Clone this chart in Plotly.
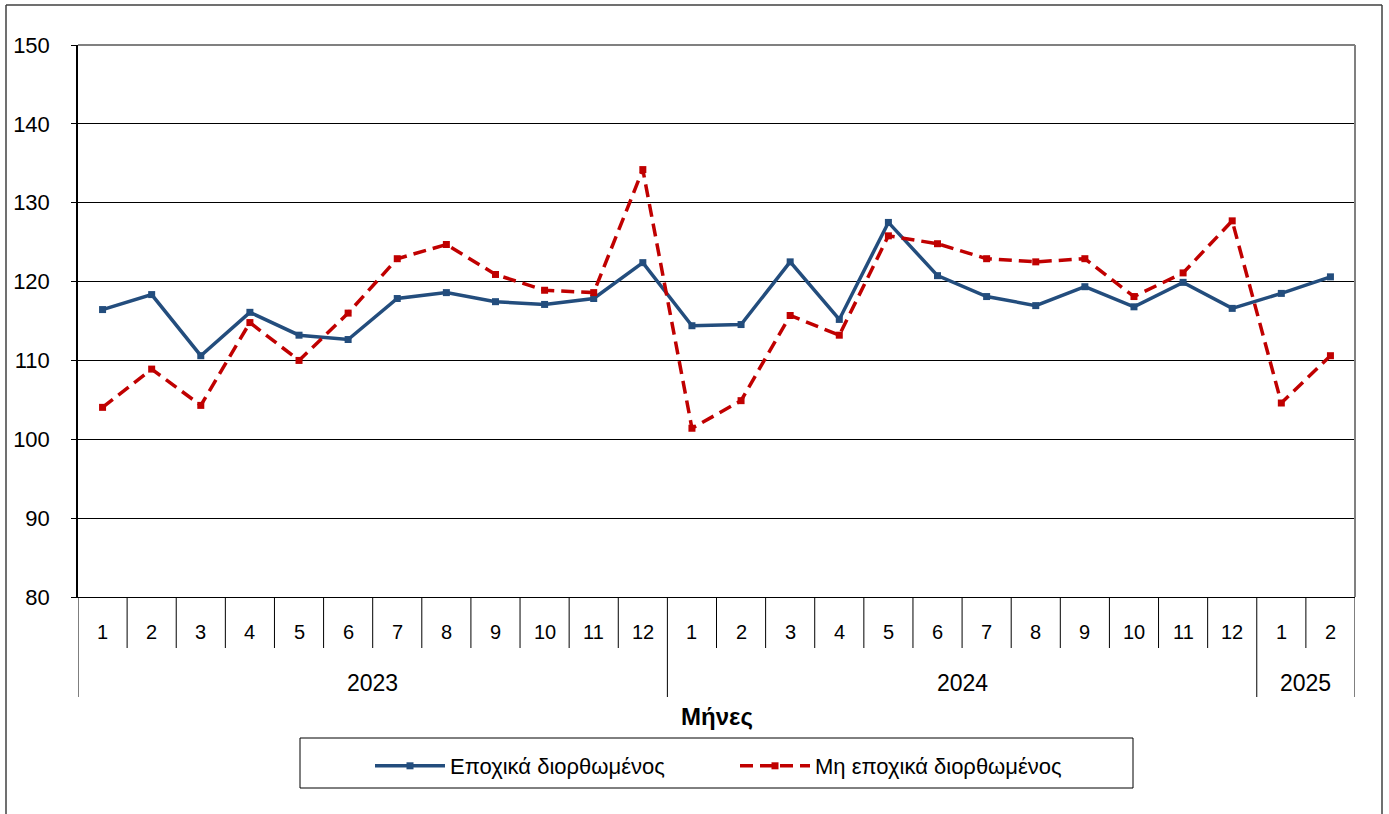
import plotly.graph_objects as go

months = [1,2,3,4,5,6,7,8,9,10,11,12,1,2,3,4,5,6,7,8,9,10,11,12,1,2]
years = ["2023", "2024", "2025"]
year_counts = [12, 12, 2]
sa_values = [116.45, 118.35, 110.6, 116.1, 113.2, 112.65, 117.85, 118.6, 117.45, 117.1, 117.85, 122.4,
             114.4, 114.55, 122.5, 115.2, 127.5, 120.75, 118.1, 116.95, 119.35, 116.8, 119.9, 116.6,
             118.5, 120.6]
nsa_values = [104.05, 108.9, 104.3, 114.8, 110.0, 116.0, 122.9, 124.7, 120.9, 118.9, 118.6, 134.2,
              101.4, 104.9, 115.7, 113.2, 125.8, 124.8, 122.9, 122.5, 122.9, 118.1, 121.1, 127.7,
              104.6, 110.6]
y_ticks = [80, 90, 100, 110, 120, 130, 140, 150]
series_names = ["Εποχικά διορθωμένος", "Μη εποχικά διορθωμένος"]
x_title = "Μήνες"

FONT = "Liberation Sans"
xs = list(range(len(months)))

fig = go.Figure()
fig.add_trace(go.Scatter(
    x=xs, y=sa_values, name=series_names[0], mode="lines+markers",
    line=dict(color="#234D7D", width=3.5),
    marker=dict(symbol="square", size=7, color="#234D7D"),
))
fig.add_trace(go.Scatter(
    x=xs, y=nsa_values, name=series_names[1], mode="lines+markers",
    line=dict(color="#C00000", width=3.5, dash="13px,7px"),
    marker=dict(symbol="square", size=7, color="#C00000"),
))

PH = 552.0
PW = 1277.0

def py(screen_y):
    return (597 - screen_y) / PH

def px(screen_x):
    return (screen_x - 78) / PW

shapes = []
annotations = []
# month separators and labels
for i, m in enumerate(months):
    annotations.append(dict(x=i, y=py(632), xref="x", yref="paper", text=str(m),
                            showarrow=False, font=dict(family=FONT, size=20, color="black"),
                            xanchor="center", yanchor="middle"))
for i in range(len(months) + 1):
    shapes.append(dict(type="line", xref="x", yref="paper", x0=i - 0.5, x1=i - 0.5,
                       y0=0, y1=py(648), line=dict(color="black", width=1)))
# year separators and labels
start = 0
bounds = [0]
for yname, cnt in zip(years, year_counts):
    center = start + (cnt - 1) / 2
    annotations.append(dict(x=center, y=py(683), xref="x", yref="paper", text=yname,
                            showarrow=False, font=dict(family=FONT, size=23, color="black"),
                            xanchor="center", yanchor="middle"))
    start += cnt
    bounds.append(start)
for b in bounds:
    shapes.append(dict(type="line", xref="x", yref="paper", x0=b - 0.5, x1=b - 0.5,
                       y0=py(648), y1=py(697), line=dict(color="black", width=1)))
# axis title
annotations.append(dict(x=0.5, y=py(716), xref="paper", yref="paper", text="<b>" + x_title + "</b>",
                        showarrow=False, font=dict(family=FONT, size=24, color="black"),
                        xanchor="center", yanchor="middle"))
# top & right plot border (gray)
shapes.append(dict(type="line", xref="paper", yref="paper", x0=0, x1=1, y0=1, y1=1,
                   line=dict(color="#808080", width=2)))
shapes.append(dict(type="line", xref="paper", yref="paper", x0=1, x1=1, y0=0, y1=1,
                   line=dict(color="#808080", width=2)))
# legend box
shapes.append(dict(type="rect", xref="paper", yref="paper",
                   x0=px(300), x1=px(1133), y0=py(738), y1=py(788),
                   line=dict(color="black", width=1)))
# outer chart border
shapes.append(dict(type="line", xref="paper", yref="paper",
                   x0=px(6), x1=px(1382), y0=py(5), y1=py(5),
                   line=dict(color="#404040", width=1.5)))
shapes.append(dict(type="line", xref="paper", yref="paper",
                   x0=px(6), x1=px(6), y0=py(5), y1=py(820),
                   line=dict(color="#404040", width=1.5)))
shapes.append(dict(type="line", xref="paper", yref="paper",
                   x0=px(1382), x1=px(1382), y0=py(5), y1=py(820),
                   line=dict(color="#404040", width=1.5)))

fig.update_layout(
    width=1389, height=814,
    margin=dict(l=78, r=34, t=45, b=217),
    paper_bgcolor="white", plot_bgcolor="white",
    font=dict(family=FONT, size=19, color="black"),
    shapes=shapes, annotations=annotations,
    showlegend=True,
    legend=dict(orientation="h", x=px(370), xanchor="left",
                y=py(745), yanchor="top",
                font=dict(family=FONT, size=22, color="black"),
                entrywidth=280, entrywidthmode="pixels",
                bgcolor="rgba(0,0,0,0)", borderwidth=0, itemwidth=70),
)
fig.update_xaxes(range=[-0.5, len(months) - 0.5], showgrid=False, zeroline=False,
                 showticklabels=False, ticks="", showline=True, linecolor="black", linewidth=1)
fig.update_yaxes(range=[80, 150], tickvals=y_ticks, showgrid=True, gridcolor="black", gridwidth=1,
                 zeroline=False, showline=True, linecolor="black", linewidth=1.5,
                 ticks="outside", ticklen=5, tickcolor="black", ticklabelstandoff=17,
                 tickfont=dict(family=FONT, size=22, color="black"))

fig.write_html("out.html", config={"displayModeBar": False},
               post_script="document.body.style.margin='0';")
